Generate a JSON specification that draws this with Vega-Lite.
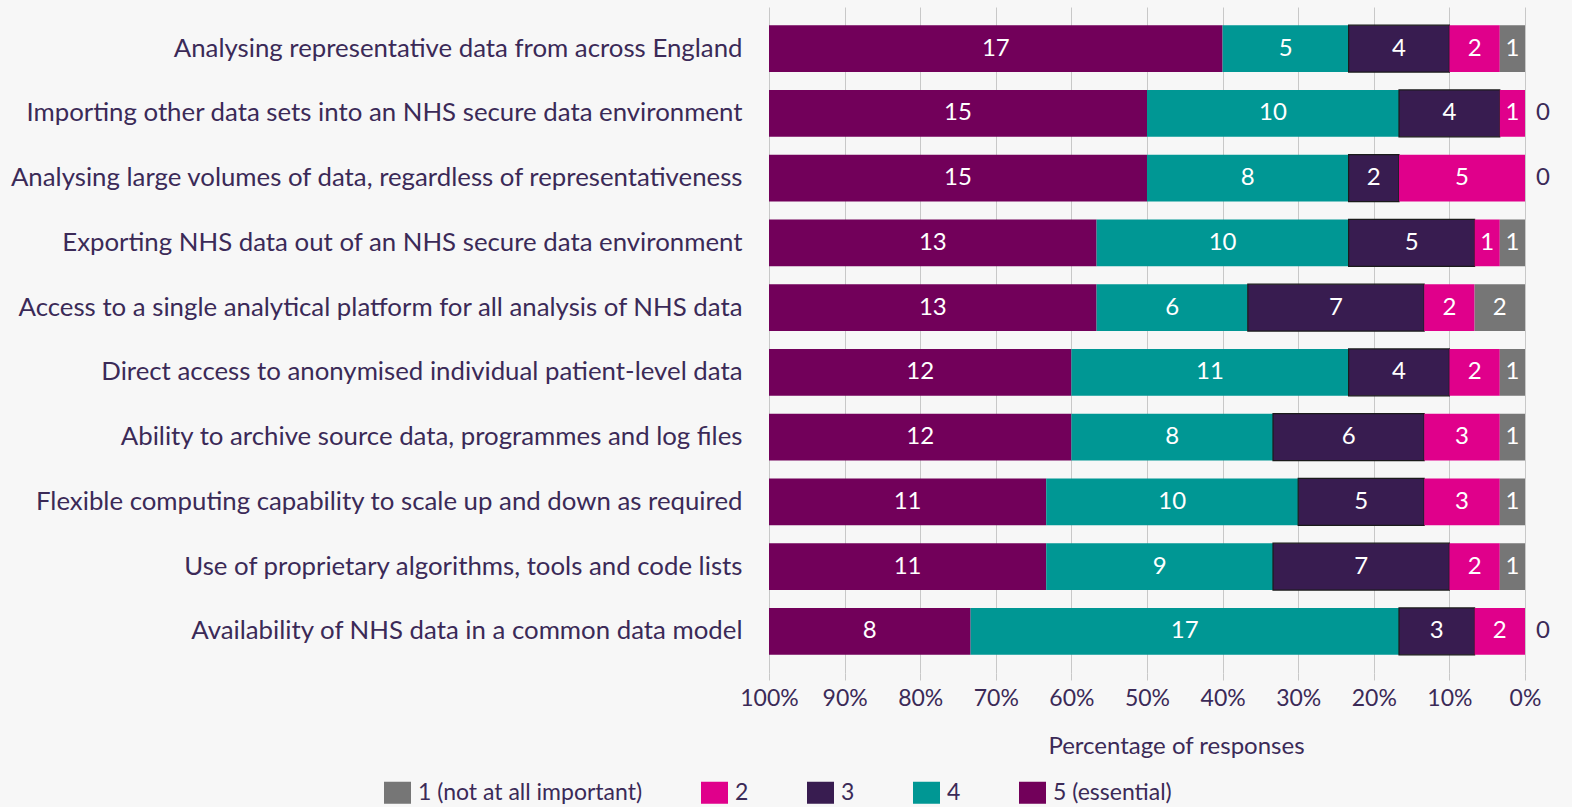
{
  "$schema": "https://vega.github.io/schema/vega-lite/v6.json",
  "width": 756,
  "height": 666,
  "autosize": {"type": "none"},
  "padding": {"left": 769, "top": 7, "right": 47, "bottom": 134},
  "background": "#f7f7f7",
  "config": {"view": {"stroke": null}, "font": "Lato"},
  "data": {"values": [
    {"task": "Analysing representative data from across England", "level": "5 (essential)", "n": 17, "pct": 60},
    {"task": "Analysing representative data from across England", "level": "4", "n": 5, "pct": 16.667},
    {"task": "Analysing representative data from across England", "level": "3", "n": 4, "pct": 13.333},
    {"task": "Analysing representative data from across England", "level": "2", "n": 2, "pct": 6.667},
    {"task": "Analysing representative data from across England", "level": "1 (not at all important)", "n": 1, "pct": 3.333},
    {"task": "Importing other data sets into an NHS secure data environment", "level": "5 (essential)", "n": 15, "pct": 50},
    {"task": "Importing other data sets into an NHS secure data environment", "level": "4", "n": 10, "pct": 33.333},
    {"task": "Importing other data sets into an NHS secure data environment", "level": "3", "n": 4, "pct": 13.333},
    {"task": "Importing other data sets into an NHS secure data environment", "level": "2", "n": 1, "pct": 3.333},
    {"task": "Importing other data sets into an NHS secure data environment", "level": "1 (not at all important)", "n": 0, "pct": 0},
    {"task": "Analysing large volumes of data, regardless of representativeness", "level": "5 (essential)", "n": 15, "pct": 50},
    {"task": "Analysing large volumes of data, regardless of representativeness", "level": "4", "n": 8, "pct": 26.667},
    {"task": "Analysing large volumes of data, regardless of representativeness", "level": "3", "n": 2, "pct": 6.667},
    {"task": "Analysing large volumes of data, regardless of representativeness", "level": "2", "n": 5, "pct": 16.667},
    {"task": "Analysing large volumes of data, regardless of representativeness", "level": "1 (not at all important)", "n": 0, "pct": 0},
    {"task": "Exporting NHS data out of an NHS secure data environment", "level": "5 (essential)", "n": 13, "pct": 43.333},
    {"task": "Exporting NHS data out of an NHS secure data environment", "level": "4", "n": 10, "pct": 33.333},
    {"task": "Exporting NHS data out of an NHS secure data environment", "level": "3", "n": 5, "pct": 16.667},
    {"task": "Exporting NHS data out of an NHS secure data environment", "level": "2", "n": 1, "pct": 3.333},
    {"task": "Exporting NHS data out of an NHS secure data environment", "level": "1 (not at all important)", "n": 1, "pct": 3.333},
    {"task": "Access to a single analytical platform for all analysis of NHS data", "level": "5 (essential)", "n": 13, "pct": 43.333},
    {"task": "Access to a single analytical platform for all analysis of NHS data", "level": "4", "n": 6, "pct": 20},
    {"task": "Access to a single analytical platform for all analysis of NHS data", "level": "3", "n": 7, "pct": 23.333},
    {"task": "Access to a single analytical platform for all analysis of NHS data", "level": "2", "n": 2, "pct": 6.667},
    {"task": "Access to a single analytical platform for all analysis of NHS data", "level": "1 (not at all important)", "n": 2, "pct": 6.667},
    {"task": "Direct access to anonymised individual patient-level data", "level": "5 (essential)", "n": 12, "pct": 40},
    {"task": "Direct access to anonymised individual patient-level data", "level": "4", "n": 11, "pct": 36.667},
    {"task": "Direct access to anonymised individual patient-level data", "level": "3", "n": 4, "pct": 13.333},
    {"task": "Direct access to anonymised individual patient-level data", "level": "2", "n": 2, "pct": 6.667},
    {"task": "Direct access to anonymised individual patient-level data", "level": "1 (not at all important)", "n": 1, "pct": 3.333},
    {"task": "Ability to archive source data, programmes and log files", "level": "5 (essential)", "n": 12, "pct": 40},
    {"task": "Ability to archive source data, programmes and log files", "level": "4", "n": 8, "pct": 26.667},
    {"task": "Ability to archive source data, programmes and log files", "level": "3", "n": 6, "pct": 20},
    {"task": "Ability to archive source data, programmes and log files", "level": "2", "n": 3, "pct": 10},
    {"task": "Ability to archive source data, programmes and log files", "level": "1 (not at all important)", "n": 1, "pct": 3.333},
    {"task": "Flexible computing capability to scale up and down as required", "level": "5 (essential)", "n": 11, "pct": 36.667},
    {"task": "Flexible computing capability to scale up and down as required", "level": "4", "n": 10, "pct": 33.333},
    {"task": "Flexible computing capability to scale up and down as required", "level": "3", "n": 5, "pct": 16.667},
    {"task": "Flexible computing capability to scale up and down as required", "level": "2", "n": 3, "pct": 10},
    {"task": "Flexible computing capability to scale up and down as required", "level": "1 (not at all important)", "n": 1, "pct": 3.333},
    {"task": "Use of proprietary algorithms, tools and code lists", "level": "5 (essential)", "n": 11, "pct": 36.667},
    {"task": "Use of proprietary algorithms, tools and code lists", "level": "4", "n": 9, "pct": 30},
    {"task": "Use of proprietary algorithms, tools and code lists", "level": "3", "n": 7, "pct": 23.333},
    {"task": "Use of proprietary algorithms, tools and code lists", "level": "2", "n": 2, "pct": 6.667},
    {"task": "Use of proprietary algorithms, tools and code lists", "level": "1 (not at all important)", "n": 1, "pct": 3.333},
    {"task": "Availability of NHS data in a common data model", "level": "5 (essential)", "n": 8, "pct": 26.667},
    {"task": "Availability of NHS data in a common data model", "level": "4", "n": 17, "pct": 56.667},
    {"task": "Availability of NHS data in a common data model", "level": "3", "n": 3, "pct": 10},
    {"task": "Availability of NHS data in a common data model", "level": "2", "n": 2, "pct": 6.667},
    {"task": "Availability of NHS data in a common data model", "level": "1 (not at all important)", "n": 0, "pct": 0}
  ]},
  "encoding": {
    "y": {
      "field": "task", "type": "nominal", "sort": null,
      "scale": {"paddingInner": 0.275, "paddingOuter": 0.28},
      "axis": {"title": null, "domain": false, "ticks": false, "labelFontSize": 25.8, "labelColor": "#3b2a57", "labelPadding": 27, "labelLimit": 1000}
    }
  },
  "layer": [
    {
      "mark": {"type": "bar", "stroke": "#1b1b1b"},
      "encoding": {
        "x": {
          "field": "pct", "type": "quantitative", "stack": "zero",
          "scale": {"domain": [0, 100], "reverse": true},
          "axis": {
            "values": [0, 10, 20, 30, 40, 50, 60, 70, 80, 90, 100],
            "labelExpr": "datum.value + '%'",
            "grid": true, "gridColor": "#c8c8c8", "gridWidth": 1,
            "tickColor": "#c8c8c8", "tickSize": 7, "domain": false,
            "labelFlush": false, "labelOverlap": false,
            "labelFontSize": 23, "labelColor": "#3b2a57", "labelPadding": 7,
            "title": "Percentage of responses", "titleFontWeight": "normal", "titleFontSize": 24,
            "titleColor": "#3b2a57", "titleX": 407, "titleY": 80, "titleBaseline": "alphabetic"
          }
        },
        "color": {
          "field": "level", "type": "nominal",
          "scale": {
            "domain": ["1 (not at all important)", "2", "3", "4", "5 (essential)"],
            "range": ["#767676", "#e0008b", "#381c50", "#009794", "#72005a"]
          },
          "legend": {
            "orient": "none", "legendX": -385, "legendY": 772, "direction": "horizontal",
            "title": null, "symbolType": "M-1,-0.815H1V0.815H-1Z", "symbolSize": 729,
            "symbolStrokeWidth": 0, "symbolOpacity": 1,
            "labelFontSize": 23, "labelColor": "#3b2a57", "labelOffset": 7, "labelLimit": 1000,
            "columnPadding": 58, "padding": 0
          }
        },
        "order": {"field": "level", "sort": "ascending"},
        "strokeWidth": {"condition": {"test": "datum.level === '3'", "value": 1.2}, "value": 0}
      }
    },
    {
      "transform": [{"filter": "datum.n > 0"}],
      "mark": {"type": "text", "color": "white", "fontSize": 24, "baseline": "middle"},
      "encoding": {
        "x": {"field": "pct", "type": "quantitative", "stack": "zero", "bandPosition": 0.5},
        "text": {"field": "n", "type": "quantitative"},
        "order": {"field": "level", "sort": "ascending"}
      }
    },
    {
      "transform": [{"filter": "datum.n == 0"}],
      "mark": {"type": "text", "color": "#3b2a57", "fontSize": 24, "baseline": "middle", "dx": 18},
      "encoding": {
        "x": {"field": "pct", "type": "quantitative", "stack": null},
        "text": {"field": "n", "type": "quantitative"}
      }
    }
  ]
}
